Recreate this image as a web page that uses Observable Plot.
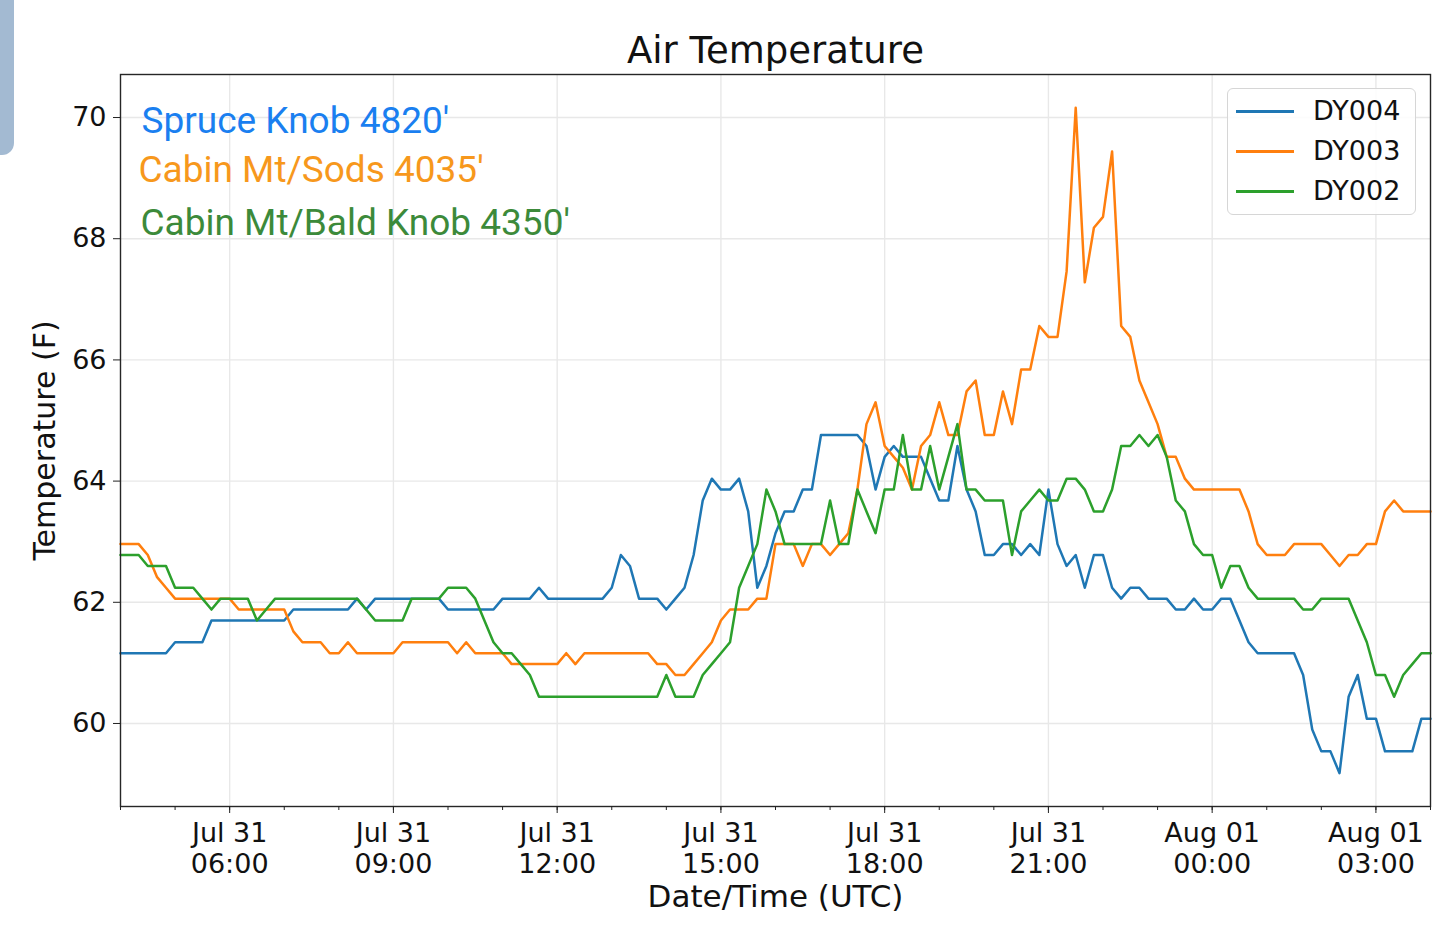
<!DOCTYPE html>
<html>
<head>
<meta charset="utf-8">
<script src="https://cdn.jsdelivr.net/npm/d3@7"></script>
<script src="https://cdn.jsdelivr.net/npm/@observablehq/plot@0.6"></script>
<style>
  html, body { margin: 0; padding: 0; background: #fff; overflow: hidden; }
  #wrap { position: relative; width: 1439px; height: 935px; }
  #wrap svg { position: absolute; left: 0; top: 0; }
  #corner { position: absolute; left: 0; top: 0; width: 14px; height: 155px; background: #a3bad2; border-bottom-right-radius: 12px; }
  #legend { position: absolute; left: 1227px; top: 88px; width: 189px; height: 127px; box-sizing: border-box;
            border: 1.5px solid #d6d6d6; border-radius: 6px; background: rgba(255,255,255,0.85);
            font-family: "DejaVu Sans", sans-serif; font-size: 27px; color: #111; }
  .entry { position: absolute; left: 0; height: 30px; width: 100%; }
  .entry .sw { position: absolute; left: 8px; top: 14px; width: 58px; height: 2.6px; }
  .entry .lb { position: absolute; left: 85px; top: 0; line-height: 30px; }
</style>
</head>
<body>
<div id="wrap"><div id="corner"></div></div>
<script>
// ---- data -------------------------------------------------------------
const seriesNames = ["DY004", "DY003", "DY002"];
const seriesColors = ["#1f77b4", "#ff7f0e", "#2ca02c"];
const stationLabels = ["Spruce Knob 4820'", "Cabin Mt/Sods 4035'", "Cabin Mt/Bald Knob 4350'"];
const stationColors = ["#1a7ff0", "#f7981c", "#3c8a3a"];

const startTime = "2019-07-31T04:00:00Z";
const endTime = "2019-08-01T04:00:00Z";
const stepMinutes = 10;

// 10-minute readings, Jul 31 04:00 UTC -> Aug 01 04:00 UTC (one row per hour)
const dy004 = [
  61.16,61.16,61.16,61.16,61.16,61.16,
  61.34,61.34,61.34,61.34,61.7,61.7,
  61.7,61.7,61.7,61.7,61.7,61.7,
  61.7,61.88,61.88,61.88,61.88,61.88,
  61.88,61.88,62.06,61.88,62.06,62.06,
  62.06,62.06,62.06,62.06,62.06,62.06,
  61.88,61.88,61.88,61.88,61.88,61.88,
  62.06,62.06,62.06,62.06,62.24,62.06,
  62.06,62.06,62.06,62.06,62.06,62.06,
  62.24,62.78,62.6,62.06,62.06,62.06,
  61.88,62.06,62.24,62.78,63.68,64.04,
  63.86,63.86,64.04,63.5,62.24,62.6,
  63.14,63.5,63.5,63.86,63.86,64.76,
  64.76,64.76,64.76,64.76,64.58,63.86,
  64.4,64.58,64.4,64.4,64.4,64.04,
  63.68,63.68,64.58,63.86,63.5,62.78,
  62.78,62.96,62.96,62.78,62.96,62.78,
  63.86,62.96,62.6,62.78,62.24,62.78,
  62.78,62.24,62.06,62.24,62.24,62.06,
  62.06,62.06,61.88,61.88,62.06,61.88,
  61.88,62.06,62.06,61.7,61.34,61.16,
  61.16,61.16,61.16,61.16,60.8,59.9,
  59.54,59.54,59.18,60.44,60.8,60.08,
  60.08,59.54,59.54,59.54,59.54,60.08,
  60.08
];
const dy003 = [
  62.96,62.96,62.96,62.78,62.42,62.24,
  62.06,62.06,62.06,62.06,62.06,62.06,
  62.06,61.88,61.88,61.88,61.88,61.88,
  61.88,61.52,61.34,61.34,61.34,61.16,
  61.16,61.34,61.16,61.16,61.16,61.16,
  61.16,61.34,61.34,61.34,61.34,61.34,
  61.34,61.16,61.34,61.16,61.16,61.16,
  61.16,60.98,60.98,60.98,60.98,60.98,
  60.98,61.16,60.98,61.16,61.16,61.16,
  61.16,61.16,61.16,61.16,61.16,60.98,
  60.98,60.8,60.8,60.98,61.16,61.34,
  61.7,61.88,61.88,61.88,62.06,62.06,
  62.96,62.96,62.96,62.6,62.96,62.96,
  62.78,62.96,63.14,63.86,64.94,65.3,
  64.58,64.4,64.22,63.86,64.58,64.76,
  65.3,64.76,64.76,65.48,65.66,64.76,
  64.76,65.48,64.94,65.84,65.84,66.56,
  66.38,66.38,67.46,70.16,67.28,68.18,
  68.36,69.44,66.56,66.38,65.66,65.3,
  64.94,64.4,64.4,64.04,63.86,63.86,
  63.86,63.86,63.86,63.86,63.5,62.96,
  62.78,62.78,62.78,62.96,62.96,62.96,
  62.96,62.78,62.6,62.78,62.78,62.96,
  62.96,63.5,63.68,63.5,63.5,63.5,
  63.5
];
const dy002 = [
  62.78,62.78,62.78,62.6,62.6,62.6,
  62.24,62.24,62.24,62.06,61.88,62.06,
  62.06,62.06,62.06,61.7,61.88,62.06,
  62.06,62.06,62.06,62.06,62.06,62.06,
  62.06,62.06,62.06,61.88,61.7,61.7,
  61.7,61.7,62.06,62.06,62.06,62.06,
  62.24,62.24,62.24,62.06,61.7,61.34,
  61.16,61.16,60.98,60.8,60.44,60.44,
  60.44,60.44,60.44,60.44,60.44,60.44,
  60.44,60.44,60.44,60.44,60.44,60.44,
  60.8,60.44,60.44,60.44,60.8,60.98,
  61.16,61.34,62.24,62.6,62.96,63.86,
  63.5,62.96,62.96,62.96,62.96,62.96,
  63.68,62.96,62.96,63.86,63.5,63.14,
  63.86,63.86,64.76,63.86,63.86,64.58,
  63.86,64.4,64.94,63.86,63.86,63.68,
  63.68,63.68,62.78,63.5,63.68,63.86,
  63.68,63.68,64.04,64.04,63.86,63.5,
  63.5,63.86,64.58,64.58,64.76,64.58,
  64.76,64.4,63.68,63.5,62.96,62.78,
  62.78,62.24,62.6,62.6,62.24,62.06,
  62.06,62.06,62.06,62.06,61.88,61.88,
  62.06,62.06,62.06,62.06,61.7,61.34,
  60.8,60.8,60.44,60.8,60.98,61.16,
  61.16
];
const yTicks = [60, 62, 64, 66, 68, 70];
const yDomain = [58.63, 70.71];

// ---- build table ---------------------------------------------------------
const t0 = new Date(startTime);
const seriesValues = [dy004, dy003, dy002];
const rows = [];
seriesNames.forEach((name, s) => {
  seriesValues[s].forEach((v, i) => {
    rows.push({series: name, time: new Date(+t0 + i * stepMinutes * 60000), value: v});
  });
});
const xDomain = [new Date(startTime), new Date(endTime)];
const majorTicks = d3.utcHour.every(3).range(new Date(startTime), new Date(endTime)).filter(d => d > xDomain[0]);
const minorTicks = d3.utcHour.every(1).range(new Date(startTime), new Date(+new Date(endTime) + 1));
const fmt1 = d3.utcFormat("%b %d"), fmt2 = d3.utcFormat("%H:%M");

const chart = Plot.plot({
  width: 1439,
  height: 935,
  marginLeft: 120,
  marginRight: 9,
  marginTop: 74,
  marginBottom: 129,
  style: {fontFamily: "DejaVu Sans, sans-serif", fontSize: "27px", color: "#111", background: "transparent", overflow: "visible"},
  x: {type: "utc", domain: xDomain, axis: null},
  y: {domain: yDomain, axis: null},
  color: {domain: seriesNames, range: seriesColors},
  marks: [
    Plot.gridX(majorTicks, {stroke: "#e8e8e8", strokeOpacity: 1, strokeWidth: 1.4}),
    Plot.gridY(yTicks, {stroke: "#e8e8e8", strokeOpacity: 1, strokeWidth: 1.4}),
    Plot.line(rows, {x: "time", y: "value", z: "series", stroke: "series", strokeWidth: 2.5, strokeLinejoin: "round"}),
    Plot.frame({stroke: "#262626", strokeWidth: 1.4}),
    Plot.axisY(yTicks, {tickSize: 7, tickPadding: 7, fontSize: 27, stroke: "#222", label: null, tickFormat: d => String(d)}),
    Plot.axisX(minorTicks, {tickSize: 4, tickFormat: () => "", stroke: "#222", label: null}),
    Plot.axisX(majorTicks, {tickSize: 7, tickPadding: 6, fontSize: 27, lineHeight: 1.15, stroke: "#222", label: null,
      tickFormat: d => fmt1(d) + "\n" + fmt2(d)}),
    Plot.text(["Air Temperature"], {frameAnchor: "top", dy: -12, lineAnchor: "bottom", fontSize: 37, fill: "#111"}),
    Plot.text(["Date/Time (UTC)"], {frameAnchor: "bottom", dy: 91, lineAnchor: "middle", fontSize: 31, fill: "#111"}),
    Plot.text(["Temperature (F)"], {frameAnchor: "left", dx: -75, rotate: -90, textAnchor: "middle", lineAnchor: "middle", fontSize: 30, fill: "#111"}),
    Plot.text([stationLabels[0]], {frameAnchor: "top-left", dx: 21, dy: 47, lineAnchor: "middle", textAnchor: "start", fontSize: 37, fontFamily: "Roboto", fill: stationColors[0]}),
    Plot.text([stationLabels[1]], {frameAnchor: "top-left", dx: 18, dy: 96, lineAnchor: "middle", textAnchor: "start", fontSize: 37, fontFamily: "Roboto", fill: stationColors[1]}),
    Plot.text([stationLabels[2]], {frameAnchor: "top-left", dx: 20, dy: 149, lineAnchor: "middle", textAnchor: "start", fontSize: 37, fontFamily: "Roboto", fill: stationColors[2]})
  ]
});
const wrap = document.getElementById("wrap");
wrap.appendChild(chart);

// legend
const legend = document.createElement("div");
legend.id = "legend";
seriesNames.forEach((name, i) => {
  const e = document.createElement("div");
  e.className = "entry";
  e.style.top = (7 + i * 40) + "px";
  const sw = document.createElement("div");
  sw.className = "sw";
  sw.style.background = seriesColors[i];
  const lb = document.createElement("div");
  lb.className = "lb";
  lb.textContent = name;
  e.appendChild(sw); e.appendChild(lb);
  legend.appendChild(e);
});
wrap.appendChild(legend);
</script>
</body>
</html>
